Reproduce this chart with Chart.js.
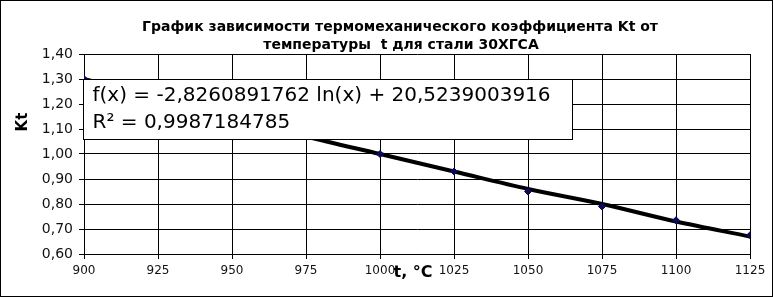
<!DOCTYPE html>
<html>
<head>
<meta charset="utf-8">
<script src="https://cdn.jsdelivr.net/npm/chart.js@4/dist/chart.umd.min.js"></script>
<style>
  html, body { margin: 0; padding: 0; background: #fff; }
  #wrap { width: 773px; height: 297px; }
</style>
</head>
<body>
<div id="wrap"><canvas id="ktChart" width="773" height="297"></canvas></div>
<script>
// temperatures (x) and measured coefficient Kt
const temps = [900, 925, 950, 975, 1000, 1025, 1050, 1075, 1100, 1125];
const ktValues = [1.30, 1.22, 1.15, 1.07, 1.00, 0.93, 0.85, 0.79, 0.735, 0.675];
// logarithmic trend line
const trendValues = [1.30, 1.22, 1.15, 1.07, 1.00, 0.93, 0.86, 0.80, 0.73, 0.67];

const titleLines = ['График зависимости термомеханического коэффициента Kt от', 'температуры  t для стали 30ХГСА'];
const equationLines = ['f(x) = -2,8260891762 ln(x) + 20,5239003916', 'R² = 0,9987184785'];
const xTitle = 't, °C';
const yTitle = 'Kt';

const toPoints = (xs, ys) => xs.map((x, i) => ({ x: x, y: ys[i] }));

// border, titles and the equation box
const decorations = {
    id: 'decorations',
    beforeDraw(chart) {
        const ctx = chart.ctx;
        ctx.save();
        ctx.fillStyle = '#fff';
        ctx.fillRect(0, 0, chart.width, chart.height);
        ctx.restore();
    },
    afterDatasetsDraw(chart) {
        const ctx = chart.ctx;
        const x = chart.scales.x, y = chart.scales.y;
        ctx.save();
        // equation box, anchored to the top-left of the plot
        const bx = Math.round(x.getPixelForValue(900)) - 0.5;
        const by = Math.round(y.getPixelForValue(1.30)) + 0.5;
        ctx.fillStyle = '#fff';
        ctx.fillRect(bx, by, 489, 60);
        ctx.strokeStyle = '#000';
        ctx.lineWidth = 1;
        ctx.strokeRect(bx, by, 489, 60);
        ctx.fillStyle = '#000';
        ctx.font = '20px "DejaVu Sans"';
        ctx.textBaseline = 'middle';
        ctx.textAlign = 'left';
        ctx.fillText(equationLines[0], bx + 9, by + 16);
        ctx.fillText(equationLines[1], bx + 9, by + 43);
        ctx.restore();
    },
    afterDraw(chart) {
        const ctx = chart.ctx;
        ctx.save();
        ctx.fillStyle = '#000';
        ctx.textAlign = 'center';
        ctx.textBaseline = 'middle';
        ctx.font = 'bold 14px "DejaVu Sans"';
        ctx.fillText(titleLines[0], 400, 27);
        ctx.fillText(titleLines[1], 401, 45);

        ctx.font = 'bold 16px "DejaVu Sans"';
        ctx.fillText(xTitle, 413, 273);

        ctx.translate(23, 122);
        ctx.rotate(-Math.PI / 2);
        ctx.font = 'bold 15px "DejaVu Sans"';
        ctx.fillText(yTitle, 0, 0);
        ctx.restore();

        ctx.save();
        ctx.strokeStyle = '#000';
        ctx.lineWidth = 1;
        ctx.strokeRect(0.5, 0.5, chart.width - 1, chart.height - 1);
        ctx.restore();
    }
};

new Chart(document.getElementById('ktChart').getContext('2d'), {
    type: 'scatter',
    data: {
        datasets: [
            {
                label: 'Kt',
                data: toPoints(temps, ktValues),
                pointStyle: 'rectRot',
                pointRadius: 3.5,
                backgroundColor: '#0b0b5c',
                borderColor: '#0b0b5c',
                showLine: false,
                order: 0
            },
            {
                label: 'trend',
                data: toPoints(temps, trendValues),
                showLine: true,
                borderColor: '#000',
                borderWidth: 4,
                pointRadius: 0,
                cubicInterpolationMode: 'monotone',
                order: 1
            }
        ]
    },
    options: {
        responsive: false,
        animation: false,
        layout: { padding: { top: 54, right: 23, left: 0, bottom: 0 } },
        plugins: {
            legend: { display: false },
            tooltip: { enabled: false },
            title: { display: false }
        },
        scales: {
            x: {
                type: 'linear',
                min: 900,
                max: 1125,
                afterFit: s => { s.height = 43; },
                ticks: {
                    stepSize: 25,
                    color: '#111',
                    padding: 5,
                    font: { family: 'DejaVu Sans', size: 12 },
                    callback: v => String(v)
                },
                grid: { color: '#000', lineWidth: 1, tickLength: 5 },
                border: { color: '#000' }
            },
            y: {
                min: 0.6,
                max: 1.4,
                afterFit: s => { s.width = 84; },
                ticks: {
                    stepSize: 0.1,
                    color: '#111',
                    padding: 6,
                    font: { family: 'DejaVu Sans', size: 14 },
                    callback: v => v.toFixed(2).replace('.', ',')
                },
                grid: { color: '#000', lineWidth: 1, tickLength: 5 },
                border: { color: '#000' }
            }
        }
    },
    plugins: [decorations]
});
</script>
</body>
</html>
